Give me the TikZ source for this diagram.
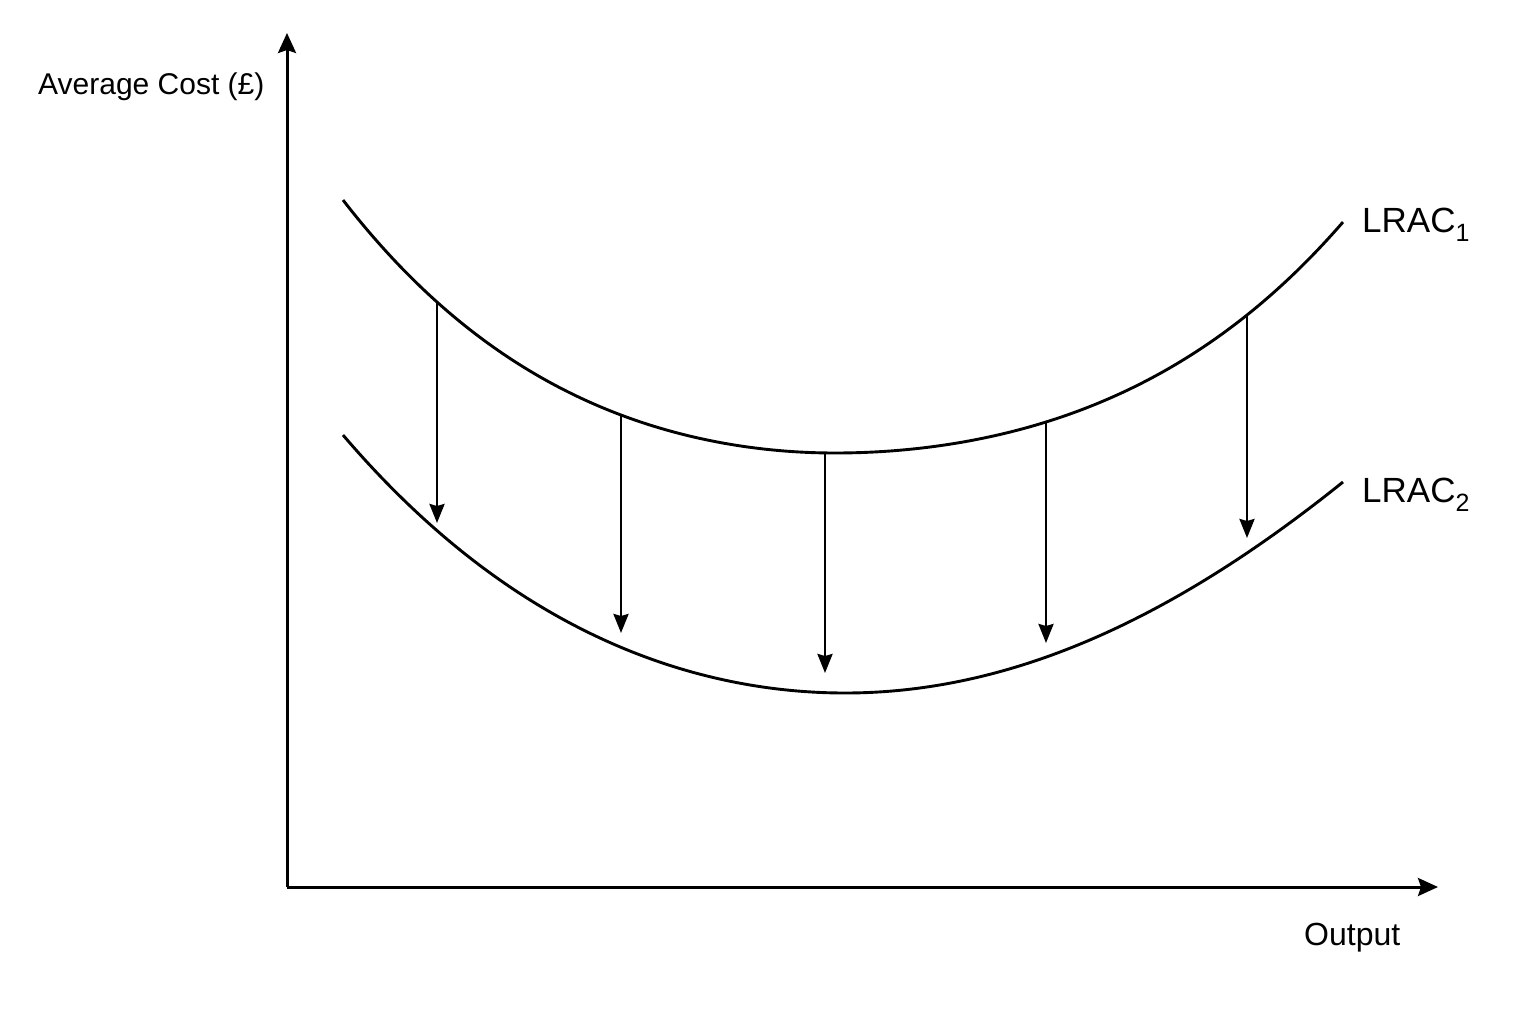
\documentclass[tikz,border=0pt]{standalone}
\usepackage{fontspec}
\setmainfont{Liberation Sans}
\usetikzlibrary{arrows.meta}
\begin{document}
\begin{tikzpicture}[x=1pt,y=-1pt,
  axisline/.style={line width=3pt,-{Stealth[length=20pt,width=18pt,inset=3pt]}},
  curveline/.style={line width=2.9pt,line join=round},
  shiftarrow/.style={line width=2.6pt,-{Stealth[length=19pt,width=15pt,inset=2pt]}},
  lbl/.style={inner sep=0pt,anchor=base west}]
\useasboundingbox (0,0) rectangle (1536,1024);
\coordinate (O) at (287,887);
\coordinate (ytop) at (287,33);
\coordinate (xend) at (1438,887);
\draw[axisline] (O) -- (ytop);
\draw[axisline] (O) -- (xend);
% LRAC1
\draw[curveline] plot[domain=-4.92:0,samples=80,smooth] ({835+100*\x},{453-(7.79*\x*\x+0.1099*\x*\x*\x*\x)})
  -- plot[domain=0:5.08,samples=80,smooth] ({835+100*\x},{453-(6.55*\x*\x+0.093*\x*\x*\x*\x)});
% LRAC2
\draw[curveline] plot[domain=-5.02:0,samples=80,smooth] ({845+100*\x},{693-(8.82*\x*\x+0.0562*\x*\x*\x*\x)})
  -- plot[domain=0:4.98,samples=80,smooth] ({845+100*\x},{693-(8.95*\x*\x-0.0178*\x*\x*\x*\x)});
% arrow endpoints
\coordinate (a1) at (437,302); \coordinate (b1) at (437,523);
\coordinate (a2) at (621,415); \coordinate (b2) at (621,633);
\coordinate (a3) at (825,453); \coordinate (b3) at (825,673);
\coordinate (a4) at (1046,422); \coordinate (b4) at (1046,643);
\coordinate (a5) at (1247,315); \coordinate (b5) at (1247,538);
\foreach \i in {1,...,5} {\draw[shiftarrow] (a\i) -- (b\i);}
% labels
\node[lbl,font=\fontsize{30}{34}\selectfont] (ylab) at (38,95) {Average Cost (£)};
\node[lbl,font=\fontsize{32}{36}\selectfont] (xlab) at (1304,945) {Output};
\node[lbl,font=\fontsize{35}{40}\selectfont] (l1) at (1362,233) {LRAC\raisebox{-9pt}{\fontsize{25}{28}\selectfont 1}};
\node[lbl,font=\fontsize{35}{40}\selectfont] (l2) at (1362,502) {LRAC\raisebox{-9pt}{\fontsize{25}{28}\selectfont 2}};
\end{tikzpicture}
\end{document}
